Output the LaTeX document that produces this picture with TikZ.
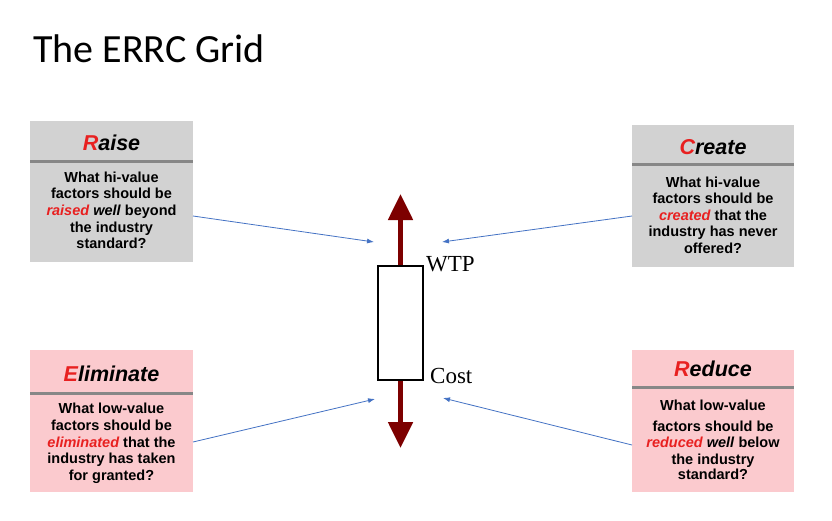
\documentclass[tikz,border=0pt]{standalone}
\usepackage{fontspec}
\setmainfont{Liberation Sans}
\newfontfamily\titlefont{Carlito}
\newfontfamily\serifface{Liberation Serif}
\usetikzlibrary{arrows.meta}
\definecolor{errred}{RGB}{232,32,32}
\definecolor{boxgray}{RGB}{210,210,210}
\definecolor{boxpink}{RGB}{251,202,206}
\definecolor{sepgray}{RGB}{135,135,135}
\definecolor{darkred}{RGB}{125,0,0}
\definecolor{arrowblue}{RGB}{68,114,196}
\newcommand\rd[1]{\textcolor{errred}{\itshape #1}}
\newcommand\bl[4]{\node[bodytxt] (#1) at (#2,#3) {#4};}
\begin{document}
\begin{tikzpicture}[x=1pt,y=-1pt,
  panel/.style={inner sep=0pt, outer sep=0pt, draw=none},
  sepline/.style={draw=sepgray, line width=3pt},
  head/.style={anchor=base, inner sep=0pt, font=\bfseries\itshape\fontsize{21.5}{24}\selectfont},
  bodytxt/.style={anchor=base, inner sep=0pt, font=\bfseries\fontsize{14.5}{16}\selectfont},
  bluearrow/.style={draw=arrowblue, line width=0.8pt, -{Latex[length=7pt,width=5pt]}},
  bigarrow/.style={draw=darkred, line width=5pt, -{Triangle[width=24pt,length=26pt]}},
  serifl/.style={anchor=base west, inner sep=0pt, font=\serifface\fontsize{23}{28}\selectfont}]
\useasboundingbox (0,0) rectangle (832,520);
\fill[white] (0,0) rectangle (832,520);
% title
\node[anchor=base west, inner sep=0pt, font=\titlefont\fontsize{40}{48}\selectfont] (title) at (33,62) {The ERRC Grid};
% panels
\node[panel, fill=boxgray, minimum width=163pt, minimum height=141pt] (raise) at (111.5,191.5) {};
\node[panel, fill=boxgray, minimum width=162pt, minimum height=142pt] (create) at (713,196) {};
\node[panel, fill=boxpink, minimum width=163pt, minimum height=142pt] (elim) at (111.5,421) {};
\node[panel, fill=boxpink, minimum width=162pt, minimum height=142pt] (reduce) at (713,421) {};
\draw[sepline] (30,161) -- (193,161);
\draw[sepline] (632,164) -- (794,164);
\draw[sepline] (30,393) -- (193,393);
\draw[sepline] (632,387) -- (794,387);
% headings
\node[head] (raiseh) at (111.5,150) {\textcolor{errred}{R}aise};
\node[head] (createh) at (713,154) {\textcolor{errred}{C}reate};
\node[head] (elimh) at (111.5,381) {\textcolor{errred}{E}liminate};
\node[head] (reduceh) at (713,376) {\textcolor{errred}{R}educe};
% raise body
\bl{r1}{111.5}{182}{What hi-value}
\bl{r2}{111.5}{198.5}{factors should be}
\bl{r3}{111.5}{215}{\rd{raised} \textit{well} beyond}
\bl{r4}{111.5}{232}{the industry}
\bl{r5}{111.5}{248}{standard?}
% create body
\bl{c1}{713}{187}{What hi-value}
\bl{c2}{713}{203.5}{factors should be}
\bl{c3}{713}{220}{\rd{created} that the}
\bl{c4}{713}{236.5}{industry has never}
\bl{c5}{713}{253}{offered?}
% eliminate body
\bl{e1}{111.5}{413}{What low-value}
\bl{e2}{111.5}{430}{factors should be}
\bl{e3}{111.5}{447}{\rd{eliminated} that the}
\bl{e4}{111.5}{463}{industry has taken}
\bl{e5}{111.5}{480}{for granted?}
% reduce body
\bl{d1}{713}{410}{What low-value}
\bl{d2}{713}{431}{factors should be}
\bl{d3}{713}{447}{\rd{reduced} \textit{well} below}
\bl{d4}{713}{464}{the industry}
\bl{d5}{713}{479}{standard?}
% central bar
\node[draw=black, line width=1.2pt, fill=white, inner sep=0pt, minimum width=45pt, minimum height=114pt] (bar) at (400.5,323) {};
\coordinate (uptip) at (400.5,194);
\coordinate (downtip) at (400.5,448);
\draw[bigarrow] (bar.north) -- (uptip);
\draw[bigarrow] (bar.south) -- (downtip);
\node[serifl] (wtp) at (426,271) {WTP};
\node[serifl] (cost) at (430,383) {Cost};
% blue arrows
\coordinate (ra) at (374,242);
\coordinate (ca) at (442,242);
\coordinate (ea) at (375,399);
\coordinate (da) at (443,398);
\draw[bluearrow] ([yshift=-24.5pt]raise.east) -- (ra);
\draw[bluearrow] ([yshift=-20pt]create.west) -- (ca);
\draw[bluearrow] ([yshift=-21pt]elim.east) -- (ea);
\draw[bluearrow] ([yshift=-24pt]reduce.west) -- (da);
\end{tikzpicture}
\end{document}
